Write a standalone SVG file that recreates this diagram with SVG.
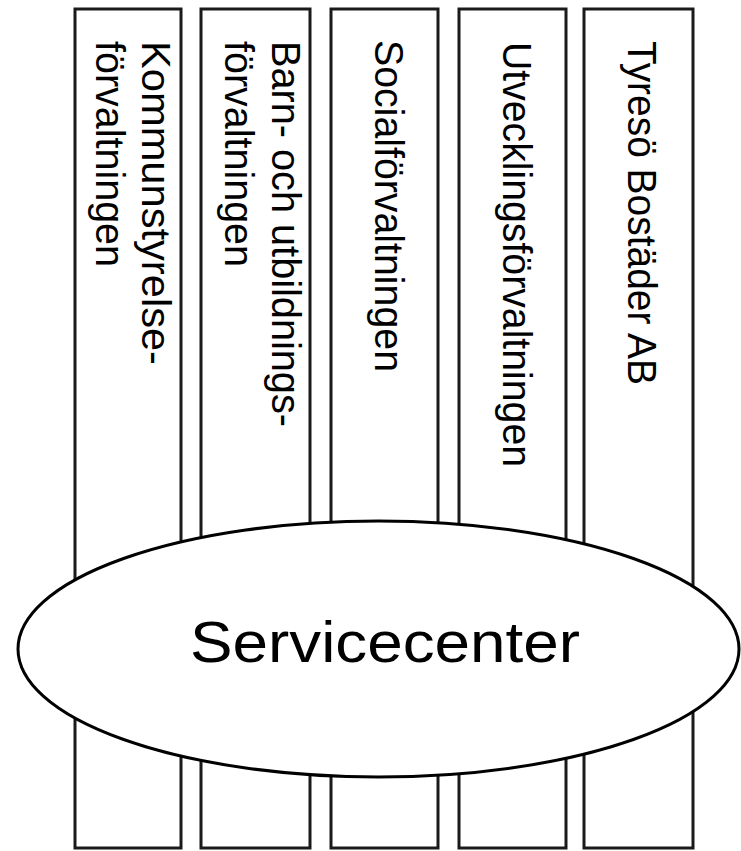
<svg xmlns="http://www.w3.org/2000/svg" width="741" height="851" viewBox="0 0 741 851">
<style>
.box{fill:#fff;stroke:#1a1a1a;stroke-width:3}
.lbl{font-family:"Liberation Sans",Arial,sans-serif;font-size:40px;fill:#000}
.big{font-family:"Liberation Sans",Arial,sans-serif;font-size:58px;fill:#000}
.ell{fill:#fff;stroke:#000;stroke-width:3}
</style>
<rect width="741" height="851" fill="#fff"/>
<g id="kommunstyrelse">
<rect class="box" x="75" y="9" width="106" height="839"/>
<text class="lbl" transform="translate(142,41) rotate(90)" textLength="324" lengthAdjust="spacingAndGlyphs">Kommunstyrelse-</text>
<text class="lbl" transform="translate(96,41) rotate(90)" textLength="226" lengthAdjust="spacingAndGlyphs">förvaltningen</text>
</g>
<g id="barn-utbildning">
<rect class="box" x="201" y="9" width="109" height="839"/>
<text class="lbl" transform="translate(272,41) rotate(90)" textLength="386" lengthAdjust="spacingAndGlyphs">Barn- och utbildnings-</text>
<text class="lbl" transform="translate(225,41) rotate(90)" textLength="226" lengthAdjust="spacingAndGlyphs">förvaltningen</text>
</g>
<g id="social">
<rect class="box" x="331" y="9" width="107" height="839"/>
<text class="lbl" transform="translate(375,40) rotate(90)" textLength="332" lengthAdjust="spacingAndGlyphs">Socialförvaltningen</text>
</g>
<g id="utveckling">
<rect class="box" x="459" y="9" width="107" height="839"/>
<text class="lbl" transform="translate(503,42) rotate(90)" textLength="425" lengthAdjust="spacingAndGlyphs">Utvecklingsförvaltningen</text>
</g>
<g id="tyreso-bostader">
<rect class="box" x="584" y="9" width="109" height="839"/>
<text class="lbl" transform="translate(628,41) rotate(90)" textLength="344" lengthAdjust="spacingAndGlyphs">Tyresö Bostäder AB</text>
</g>
<g id="servicecenter">
<ellipse class="ell" cx="378.5" cy="649" rx="360.5" ry="128"/>
<text class="big" x="190" y="662" textLength="390" lengthAdjust="spacingAndGlyphs">Servicecenter</text>
</g>
</svg>
